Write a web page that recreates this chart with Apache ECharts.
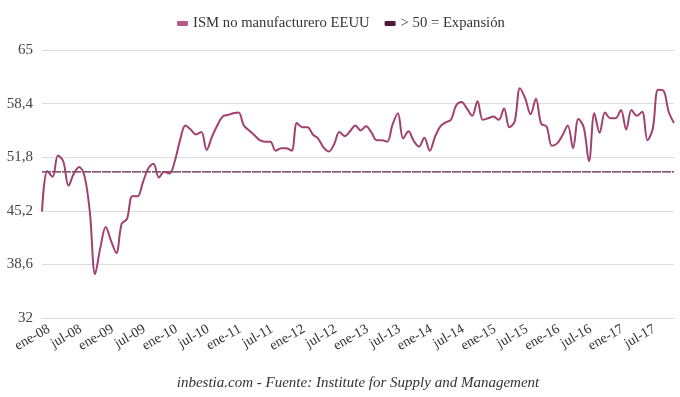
<!DOCTYPE html>
<html>
<head>
<meta charset="utf-8">
<script src="https://cdn.jsdelivr.net/npm/echarts@6/dist/echarts.min.js"></script>
<style>
html,body{margin:0;padding:0;background:#fff;}
#chart{width:680px;height:397px;}
</style>
</head>
<body>
<div id="chart"></div>
<script>
var monthNames = ['ene','feb','mar','abr','may','jun','jul','ago','sep','oct','nov','dic'];
var years = ['08','09','10','11','12','13','14','15','16','17'];
var categories = [];
years.forEach(function(y){ monthNames.forEach(function(m){ categories.push(m + '-' + y); }); });

var ismValues = [
  45.1, 50.1, 49.4, 52.0, 51.3, 48.3, 49.8, 50.6, 49.5, 45.1, 37.4, 40.7,
  43.2, 41.5, 40.0, 43.6, 44.2, 47.0, 47.0, 48.7, 50.4, 51.0, 49.3, 50.0,
  49.8, 51.3, 53.9, 55.7, 55.2, 54.6, 54.9, 52.7, 54.3, 55.7, 56.8, 57.0,
  57.2, 57.3, 55.7, 55.1, 54.5, 53.9, 53.7, 53.7, 52.6, 52.9, 52.9, 52.6,
  56.0, 55.5, 55.5, 54.6, 54.1, 53.0, 52.5, 53.4, 54.9, 54.4, 55.0, 55.7,
  55.1, 55.6, 54.9, 53.9, 53.9, 53.7, 55.8, 57.2, 54.1, 55.0, 53.8, 53.1,
  54.2, 52.6, 54.3, 55.6, 56.1, 56.4, 58.2, 58.6, 57.8, 56.9, 58.7, 56.4,
  56.6, 56.8, 56.4, 57.8, 55.5, 56.2, 60.3, 59.0, 57.1, 59.0, 55.9, 55.6,
  53.2, 53.5, 54.5, 55.7, 52.9, 56.5, 55.5, 51.3, 57.2, 54.8, 57.3, 56.6,
  56.6, 57.6, 55.2, 57.6, 56.9, 57.4, 53.9, 55.3, 60.1, 60.0, 57.4, 56.0
];
var thresholdValue = 50;
var thresholdValues = categories.map(function(){ return thresholdValue; });

var yMin = 32, yMax = 65, yStep = 6.6;
var seriesNames = ['ISM no manufacturero EEUU', '> 50 = Expansión'];
var footerText = 'inbestia.com - Fuente: Institute for Supply and Management';

var chart = echarts.init(document.getElementById('chart'));
var serif = '"Liberation Serif", "DejaVu Serif", serif';
chart.setOption({
  animation: false,
  backgroundColor: '#fff',
  legend: {
    top: 11,
    left: 172,
    itemWidth: 11,
    itemHeight: 5,
    itemGap: 15,
    icon: 'roundRect',
    textStyle: { fontFamily: serif, fontSize: 14.7, color: '#333' },
    data: [
      { name: seriesNames[0], itemStyle: { color: '#b45a8c' } },
      { name: seriesNames[1], itemStyle: { color: '#4d1a3d' } }
    ]
  },
  grid: { left: 42, right: 6, top: 50, bottom: 79, containLabel: false },
  xAxis: {
    type: 'category',
    data: categories,
    boundaryGap: false,
    axisLine: { show: true, lineStyle: { color: '#dcdcdc' } },
    axisTick: { show: false },
    axisLabel: {
      interval: 5,
      rotate: 30,
      margin: 14,
      padding: [0, -8, 0, 0],
      fontFamily: serif,
      fontSize: 14,
      color: '#333'
    },
    splitLine: { show: false }
  },
  yAxis: {
    type: 'value',
    min: yMin,
    max: yMax,
    interval: yStep,
    axisLine: { show: false },
    axisTick: { show: false },
    axisLabel: {
      margin: 9,
      fontFamily: serif,
      fontSize: 15,
      color: '#444',
      formatter: function (v) { return String(Math.round(v * 10) / 10).replace('.', ','); }
    },
    splitLine: { lineStyle: { color: '#dcdcdc', width: 1 } }
  },
  series: [
    {
      name: seriesNames[0],
      type: 'line',
      data: ismValues,
      smooth: 0.35,
      showSymbol: false,
      symbol: 'none',
      lineStyle: { color: '#a0416f', width: 2 },
      itemStyle: { color: '#b45a8c' },
      z: 3
    },
    {
      name: seriesNames[1],
      type: 'line',
      data: thresholdValues,
      showSymbol: false,
      symbol: 'none',
      lineStyle: { color: '#5a2148', width: 1.3, type: [9, 1] },
      itemStyle: { color: '#4d1a3d' },
      z: 2
    }
  ],
  graphic: [
    {
      type: 'text',
      x: 358,
      y: 376,
      style: {
        text: footerText,
        align: 'center',
        fontFamily: serif,
        fontStyle: 'italic',
        fontSize: 15,
        fill: '#333'
      }
    }
  ]
});
</script>
</body>
</html>
